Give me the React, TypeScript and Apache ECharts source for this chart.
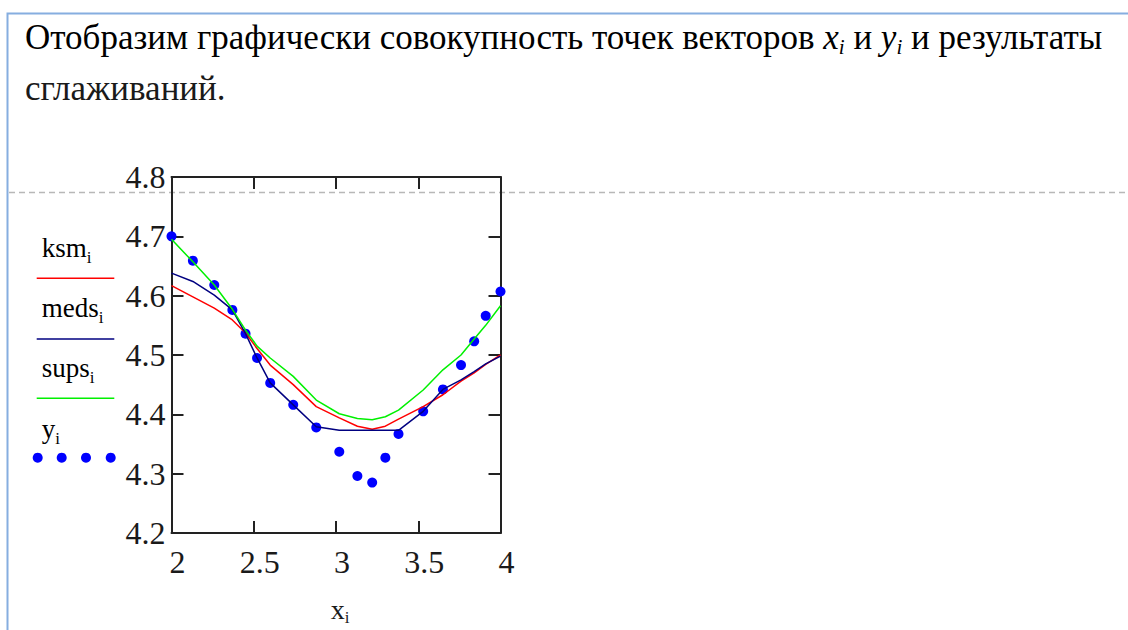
import React, { useEffect, useRef } from "react";
import * as echarts from "echarts";

// ---- data ----
const xValues = [2.0, 2.13, 2.26, 2.37, 2.45, 2.52, 2.6, 2.74, 2.88, 3.02, 3.13, 3.22, 3.3, 3.38, 3.53, 3.65, 3.76, 3.84, 3.91, 4.0];
const yValues = [4.7, 4.659, 4.618, 4.576, 4.536, 4.495, 4.453, 4.416, 4.378, 4.337, 4.296, 4.285, 4.327, 4.367, 4.405, 4.442, 4.483, 4.523, 4.566, 4.607];
const ksmValues = [4.617, 4.598, 4.579, 4.559, 4.537, 4.511, 4.483, 4.45, 4.413, 4.394, 4.38, 4.375, 4.38, 4.392, 4.413, 4.433, 4.456, 4.47, 4.484, 4.5];
const medsValues = [4.638, 4.624, 4.601, 4.576, 4.536, 4.495, 4.453, 4.416, 4.379, 4.373, 4.373, 4.373, 4.373, 4.373, 4.405, 4.442, 4.458, 4.472, 4.485, 4.498];
const supsValues = [4.695, 4.657, 4.618, 4.577, 4.542, 4.515, 4.495, 4.464, 4.424, 4.401, 4.393, 4.391, 4.396, 4.407, 4.441, 4.475, 4.5, 4.527, 4.55, 4.583];

const xMin = 2, xMax = 4, xStep = 0.5;
const yMin = 4.2, yMax = 4.8, yStep = 0.1;

const titleLine1 = "Отобразим графически совокупность точек векторов {v|x}{s|i} и {v|y}{s|i} и результаты";
const titleLine2 = "сглаживаний.";
const legendNames = ["ksm", "meds", "sups", "y"];
const xAxisName = "x";

const FONT = "'Liberation Serif', 'Times New Roman', serif";
const RED = "#ff0000";
const NAVY = "#000080";
const GREEN = "#00f000";
const BLUE = "#0000ff";
const AXIS = "#222222";
const TEXT = "#1a1a1a";

const subRich = (size: number, lh: number) => ({
  main: { fontFamily: FONT, fontSize: size, color: TEXT, lineHeight: lh, verticalAlign: "middle" },
  s: { fontFamily: FONT, fontSize: Math.round(size * 0.62), color: TEXT, verticalAlign: "bottom", lineHeight: 10 },
});

export default function App() {
  const ref = useRef<HTMLDivElement>(null);

  useEffect(() => {
    if (!ref.current) return;
    const chart = echarts.init(ref.current, undefined, { renderer: "svg" });

    const pairs = (vals: number[]) => xValues.map((x, i) => [x, vals[i]]);

    const legendLineYs = [278.3, 339, 398.3];
    const legendTextYs = [248, 307.6, 368.2, 429];
    const legendColors = [RED, NAVY, GREEN];

    const graphics: any[] = [
      {
        type: "rect",
        shape: { x: 7.5, y: 13.5, width: 1300, height: 800 },
        style: { fill: "none", stroke: "#86aee0", lineWidth: 2 },
        silent: true,
        z: 0,
      },
      {
        type: "line",
        shape: { x1: 9, y1: 192.5, x2: 1128, y2: 192.5 },
        style: { stroke: "#b8b8b8", lineWidth: 1.5, lineDash: [6, 4] },
        silent: true,
      },
      {
        type: "text",
        x: 25,
        y: 37.5,
        style: {
          text: "{main|" + titleLine1.replace(/\{v\|(.)\}\{s\|i\}/g, "}{v|$1}{s|i}{main|") + "}",
          rich: {
            main: { fontFamily: FONT, fontSize: 35, color: TEXT, lineHeight: 40 },
            v: { fontFamily: FONT, fontSize: 35, fontStyle: "italic", color: TEXT, lineHeight: 40 },
            s: { fontFamily: FONT, fontSize: 21, fontStyle: "italic", color: TEXT, verticalAlign: "bottom", lineHeight: 10 },
          },
          verticalAlign: "middle",
          align: "left",
        },
      },
      {
        type: "text",
        x: 25,
        y: 88.9,
        style: { text: titleLine2, fontFamily: FONT, fontSize: 35, fill: TEXT, verticalAlign: "middle", align: "left" },
      },
    ];

    legendNames.forEach((name, i) => {
      graphics.push({
        type: "text",
        x: 41.7,
        y: legendTextYs[i],
        style: {
          text: "{main|" + name + "}{s|i}",
          rich: subRich(27, 36),
          verticalAlign: "middle",
          align: "left",
        },
      });
      if (i < 3) {
        graphics.push({
          type: "line",
          shape: { x1: 36.7, y1: legendLineYs[i], x2: 114.3, y2: legendLineYs[i] },
          style: { stroke: legendColors[i], lineWidth: 1.6 },
        });
      }
    });
    [37.7, 61.7, 86, 110.7].forEach((cx) => {
      graphics.push({ type: "circle", shape: { cx, cy: 457.7, r: 5 }, style: { fill: BLUE } });
    });

    const axisLineStyle = { color: AXIS, width: 2 };
    const baseX = {
      type: "value",
      min: xMin,
      max: xMax,
      interval: xStep,
      axisLine: { show: true, onZero: false, lineStyle: axisLineStyle },
      axisTick: { show: true, inside: true, length: 12, lineStyle: axisLineStyle },
      splitLine: { show: false },
    };
    const baseY = {
      type: "value",
      min: yMin,
      max: yMax,
      interval: yStep,
      axisLine: { show: true, onZero: false, lineStyle: axisLineStyle },
      axisTick: { show: true, inside: true, length: 12, lineStyle: axisLineStyle },
      splitLine: { show: false },
    };

    chart.setOption({
      animation: false,
      backgroundColor: "#ffffff",
      grid: { left: 171.5, right: 627.5, top: 177, bottom: 97, containLabel: false, outerBoundsMode: "none" },
      xAxis: [
        {
          ...baseX,
          position: "bottom",
          axisLabel: {
            show: true,
            fontFamily: FONT,
            fontSize: 32,
            color: TEXT,
            margin: 13,
            padding: [0, 0, 0, 12],
            formatter: (v: number) => String(Math.round(v * 10) / 10),
          },
          name: "{main|" + xAxisName + "}{s|i}",
          nameLocation: "middle",
          nameGap: 59,
          nameTextStyle: { rich: subRich(28, 34), padding: [0, 0, 0, 8] },
        },
        { ...baseX, position: "top", axisLabel: { show: false } },
      ],
      yAxis: [
        {
          ...baseY,
          position: "left",
          axisLabel: {
            show: true,
            fontFamily: FONT,
            fontSize: 32,
            color: TEXT,
            margin: 6,
            padding: [8, 0, 0, 0],
            formatter: (v: number) => v.toFixed(1),
          },
        },
        { ...baseY, position: "right", axisLabel: { show: false } },
      ],
      series: [
        { type: "line", name: "ksm", data: pairs(ksmValues), symbol: "none", lineStyle: { color: RED, width: 1.5 }, xAxisIndex: 0, yAxisIndex: 0 },
        { type: "line", name: "meds", data: pairs(medsValues), symbol: "none", lineStyle: { color: NAVY, width: 1.5 }, xAxisIndex: 0, yAxisIndex: 0 },
        { type: "line", name: "sups", data: pairs(supsValues), symbol: "none", lineStyle: { color: GREEN, width: 1.5 }, xAxisIndex: 0, yAxisIndex: 0 },
        { type: "scatter", name: "y", data: pairs(yValues), symbol: "circle", symbolSize: 10, itemStyle: { color: BLUE, opacity: 1 }, xAxisIndex: 0, yAxisIndex: 0 },
      ],
      graphic: graphics,
    });

    return () => chart.dispose();
  }, []);

  return (
    <div
      ref={ref}
      style={{ position: "absolute", left: 0, top: 0, width: 1128, height: 630, background: "#fff" }}
    />
  );
}
